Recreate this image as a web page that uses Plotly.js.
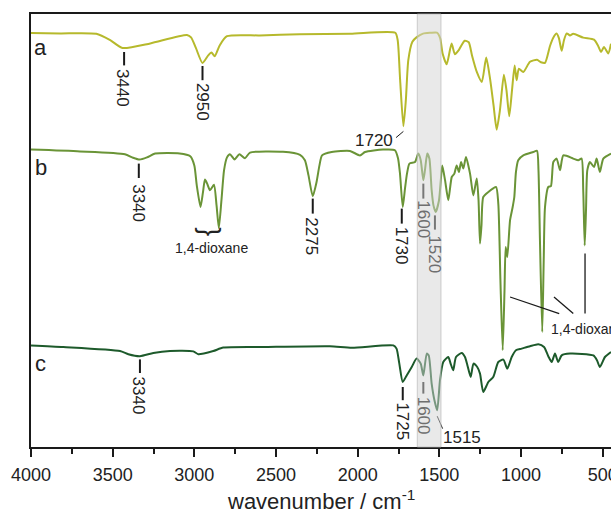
<!DOCTYPE html>
<html>
<head>
<meta charset="utf-8">
<script src="https://cdn.plot.ly/plotly-3.0.1.min.js"></script>
<style>html,body{margin:0;padding:0;background:#fff;}#chart{width:611px;height:514px;}</style>
</head>
<body>
<div id="chart"></div>
<script>
// Spectrum a (wavenumber / cm-1, offset transmittance, a.u.)
const wnA = [4000,3820,3600,3515,3440,3270,3045,3020,2990,2950,2915,2895,2875,2845,2800,2600,2355,2045,1770,1755,1740,1720,1705,1690,1665,1640,1600,1555,1515,1495,1480,1455,1425,1405,1380,1345,1320,1300,1270,1240,1213,1190,1168,1149,1129,1105,1089,1072,1055,1039,1027,1013,986,945,902,878,853,823,804,782,768,751,737,720,700,680,619,553,529,510,492,466,449];
const tA = [103.5,103.4,103.3,101.7,99.75,100.9,103,102.4,99.7,96,97.9,98.6,97.7,100.4,102.7,102.9,103.2,103.3,103.55,101.7,91.7,80.2,86.7,96.7,101.3,102.4,103.35,103.55,103.6,102.2,98.4,95.7,100.85,98.2,99.3,101.55,101.2,97.9,93.7,91.25,97.35,92.2,85.4,79.35,84.2,93.05,89.2,82.7,89.2,95.4,91.7,94.55,93.75,96.3,96.8,96.2,96.05,100.2,102.2,103.35,102.2,99.05,101.7,103.4,102.9,103.3,102.35,101.85,100.4,98.75,100,98.4,100.8];

// Spectrum b
const wnB = [4000,3700,3425,3375,3335,3290,3240,3090,3025,3000,2985,2962,2947,2935,2922,2904,2880,2864,2850,2834,2818,2800,2782,2754,2724,2690,2659,2457,2353,2323,2301,2275,2252,2234,2218,2159,2047,1986,1955,1845,1772,1753,1741,1724,1710,1698,1683,1649,1629,1614,1598,1588,1574,1561,1547,1536,1522,1502,1490,1482,1465,1445,1424,1408,1394,1380,1367,1353,1337,1312,1292,1271,1260,1251,1242,1231,1200,1153,1139,1126,1112,1101,1094,1084,1067,1051,1041,1031,1017,986,925,902,893,884,870,861,853,833,817,802,782,761,741,680,649,629,619,610,602,594,578,553,537,517,496,449];
const tB = [74.35,73.9,73.2,72.3,71.85,72.4,73.35,73.4,72.7,70.4,65.4,60,63.7,66.85,65.9,64.2,65.55,60.4,54.7,61.7,69.2,72.4,73.2,71.9,73.2,72.2,73.6,73.8,73.05,71.7,67.9,62.7,66.2,70.4,72.9,73.75,74,72.9,73.75,74.35,74.2,72.2,68.4,60,64.7,68.35,70.85,71.25,73.35,71.7,66.7,69.2,73.35,72.1,64.2,60.4,58.75,61.7,67.2,70.4,66.7,61.7,67.5,68.35,70.4,68.75,71.25,69.6,72.5,68.35,62.9,67.1,61.7,50.85,55.4,62.5,63.75,65,60.85,41.7,24.2,39.2,50,47.5,56.7,60,62.5,68.75,71.7,72.9,73.75,74.05,69.2,51.7,28.75,46.7,60,65,65.2,71.25,72.1,69.2,72.9,72.1,71.7,72.1,64.2,50.4,59.2,69.2,71.25,70,72.1,68.75,72.1,73.35];

// Spectrum c
const wnC = [4000,3802,3455,3404,3333,3251,3149,3006,2976,2884,2823,2578,2170,2035,1782,1762,1745,1724,1700,1669,1639,1614,1598,1577,1565,1547,1530,1513,1496,1476,1445,1431,1415,1398,1363,1343,1328,1308,1291,1268,1251,1231,1200,1170,1139,1108,1084,1057,1031,996,945,894,859,833,812,792,772,751,700,557,535,517,486,449];
const tC = [25.4,25,24,23.2,22.7,23.5,24,23.9,23.2,24,24.85,25,25.2,24.8,25.4,24.6,20.85,16.25,17.9,20,22.1,20.85,17.9,23.35,22.9,15.85,11.7,9.2,16.7,21.25,22.5,20.85,19.2,22.5,23.5,22.5,20.4,17.5,20.85,20,18.35,13.75,16.25,17.5,21.25,21.85,19.6,22.5,24.2,24.6,25.2,25.7,25,22.7,21.25,23.35,21.25,22.9,23.35,22.9,21.7,20,22.5,23.75];

const seriesNames = ['a','b','c'];
const seriesColors = ['#b6b92c','#6a9437','#1d5a2b'];
const xTitle = 'wavenumber / cm<sup>-1</sup>';

// peak labels: [wavenumber, y of label, text, rotation, colour]
const peakLabels = [
  [3435, 89.7, '3440', 90, '#222'],
  [2950, 86.4, '2950', 90, '#222'],
  [1900, 76.7, '1720', 0, '#222'],
  [3340, 61.0, '3340', 90, '#222'],
  [2280, 52.7, '2275', 90, '#222'],
  [1730, 50.4, '1730', 90, '#222'],
  [1597, 56.8, '1600', 90, '#6f6f6f'],
  [1527, 48.2, '1520', 90, '#6f6f6f'],
  [3340, 12.9, '3340', 90, '#222'],
  [1725, 6.5, '1725', 90, '#222'],
  [1597, 7.7, '1600', 90, '#6f6f6f'],
  [1361, 2.5, '1515', 0, '#222']
];
// peak marker ticks: [x0, y0, x1, y1, width]
const peakTicks = [
  [3430, 98.75, 3430, 95.4, 2],
  [2950, 95.25, 2950, 91.7, 2],
  [1765, 77.35, 1720, 78.9, 1],
  [3340, 70.85, 3340, 67.25, 2],
  [2275, 62.1, 2275, 58.35, 2],
  [1730, 59.6, 1730, 55.85, 2],
  [1598, 65.85, 1598, 62.1, 2],
  [1527, 57.9, 1527, 54.35, 2],
  [3333, 21.9, 3333, 18.5, 2],
  [1724, 15.0, 1724, 11.7, 2],
  [1598, 16.25, 1598, 13.35, 2],
  [1513, 7.7, 1480, 4.6, 1],
  [1067, 37.5, 766, 33.35, 1.3],
  [798, 37.5, 680, 33.35, 1.3],
  [608, 48.35, 608, 33.35, 1.3]
];
const band = [1490, 1635];

const font = 'Liberation Sans, Arial, Helvetica, sans-serif';
const xs = [wnA, wnB, wnC], ys = [tA, tB, tC];
const traces = xs.map((x, i) => ({
  x: x, y: ys[i], type: 'scatter', mode: 'lines', name: seriesNames[i],
  line: {color: seriesColors[i], width: 2, shape: 'spline', smoothing: 0.6},
  hoverinfo: 'skip'
}));

const annotations = peakLabels.map(p => ({
  x: p[0], y: p[1], xref: 'x', yref: 'y', text: p[2], textangle: p[3],
  showarrow: false, xanchor: 'center', yanchor: 'middle',
  font: {family: font, size: 17, color: p[4]}
}));
// series letters
const letterY = [99.8, 70.0, 20.8];
seriesNames.forEach((n, i) => annotations.push({
  x: 3940, y: letterY[i], xref: 'x', yref: 'y', text: n, showarrow: false,
  xanchor: 'center', yanchor: 'middle', font: {family: font, size: 22, color: '#222'}
}));
annotations.push({x: 2901, y: 53.8, xref: 'x', yref: 'y', text: '}', textangle: 90, showarrow: false,
  xanchor: 'center', yanchor: 'middle', font: {family: font, size: 27, color: '#222'}});
annotations.push({x: 2897, y: 49.85, xref: 'x', yref: 'y', text: '1,4-dioxane', showarrow: false,
  xanchor: 'center', yanchor: 'middle', font: {family: font, size: 14, color: '#222'}});
annotations.push({x: 827, y: 29.55, xref: 'x', yref: 'y', text: '1,4-dioxane', showarrow: false,
  xanchor: 'left', yanchor: 'middle', font: {family: font, size: 14, color: '#222'}});
// x axis title
annotations.push({x: 0.5, y: -0.122, xref: 'paper', yref: 'paper', text: xTitle, showarrow: false,
  xanchor: 'center', yanchor: 'middle', font: {family: font, size: 22, color: '#222'}});

const shapes = peakTicks.map(t => ({
  type: 'line', xref: 'x', yref: 'y', x0: t[0], y0: t[1], x1: t[2], y1: t[3],
  line: {color: '#1a1a1a', width: t[4]}, layer: 'above'
}));
shapes.push({type: 'rect', xref: 'x', yref: 'paper', x0: band[0], x1: band[1], y0: 0, y1: 1,
  fillcolor: 'rgba(212,212,212,0.5)', line: {color: 'rgba(185,185,185,0.7)', width: 1}, layer: 'above'});

const layout = {
  width: 611, height: 514,
  margin: {l: 31, r: 0, t: 14, b: 67, pad: 0},
  paper_bgcolor: '#fff', plot_bgcolor: '#fff',
  showlegend: false,
  font: {family: font, color: '#222'},
  xaxis: {
    range: [4000, 449], dtick: 500, tick0: 0, ticks: 'outside', ticklen: 8, tickwidth: 2,
    tickcolor: '#1a1a1a', showline: true, linewidth: 2, linecolor: '#1a1a1a', mirror: true,
    showgrid: false, zeroline: false, tickfont: {family: font, size: 18, color: '#222'},
    ticklabeloverflow: 'allow', ticklabelstandoff: 2,
    minor: {dtick: 250, ticks: 'outside', ticklen: 5, tickwidth: 2, tickcolor: '#1a1a1a', showgrid: false},
    automargin: false
  },
  yaxis: {
    range: [0, 108.25], showticklabels: false, ticks: '', showgrid: false, zeroline: false,
    showline: true, linewidth: 2, linecolor: '#1a1a1a', automargin: false
  },
  annotations: annotations,
  shapes: shapes
};
Plotly.newPlot('chart', traces, layout, {staticPlot: true, displayModeBar: false});
</script>
</body>
</html>
